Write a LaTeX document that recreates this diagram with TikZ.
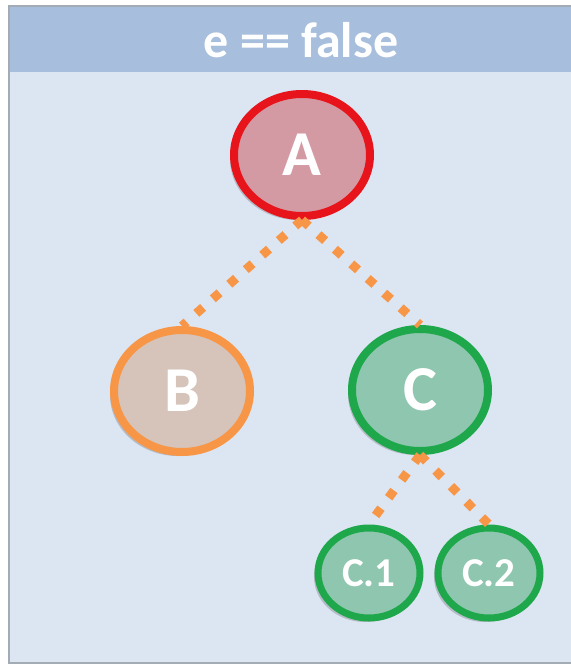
\documentclass[tikz,border=0pt]{standalone}
\usepackage{fontspec}
\setmainfont{Carlito}
\usetikzlibrary{shapes.geometric,shadows}
\definecolor{hdr}{HTML}{A7BEDD}
\definecolor{body}{HTML}{DCE5F2}
\definecolor{frame}{HTML}{A3ABB5}
\definecolor{redline}{HTML}{E8141B}
\definecolor{redfill}{HTML}{D49AA4}
\definecolor{orline}{HTML}{F79646}
\definecolor{orfill}{HTML}{D6C3B9}
\definecolor{grline}{HTML}{1EA84B}
\definecolor{grfill}{HTML}{8EC6AF}
\begin{document}
\begin{tikzpicture}[x=1pt,y=-1pt,
  treenode/.style={ellipse, inner sep=0pt, line width=8pt, text=white,
    font=\bfseries\fontsize{64}{64}\selectfont,
    drop shadow={shadow xshift=-4pt, shadow yshift=-4pt, opacity=0.18, fill=black}},
  bignode/.style={treenode, minimum width=136pt, minimum height=122pt},
  smallnode/.style={treenode, line width=7pt, minimum width=102pt, minimum height=90pt,
    font=\bfseries\fontsize{41}{41}\selectfont},
  rednode/.style={draw=redline, fill=redfill},
  ornode/.style={draw=orline, fill=orfill},
  grnode/.style={draw=grline, fill=grfill},
  dotlink/.style={draw=orline, line width=9pt, dash pattern=on 9pt off 13pt}
]
\useasboundingbox (0,0) rectangle (571,665);
\fill[white] (0,0) rectangle (571,665);
% panel
\fill[body] (9,6) rectangle (571,663);
\fill[hdr] (9,6) rectangle (571,72);
\draw[frame, line width=1.5pt] (571,6) -- (9,6) -- (9,663) -- (571,663);
\node[text=white, font=\bfseries\fontsize{50}{50}\selectfont] (title) at (301,40) {e == false};
% nodes
\node[bignode, rednode] (A) at (302,155) {A};
\node[bignode, ornode] (B) at (182,391) {B};
\node[bignode, grnode] (C) at (420,390) {C};
\node[smallnode, grnode] (C1) at (369,573) {C.1};
\node[smallnode, grnode] (C2) at (489,573) {C.2};
% connectors
\draw[dotlink] (A.south) -- (B.north);
\draw[dotlink] (A.south) -- (C.north);
\draw[dotlink] (C.south) -- (C1.north);
\draw[dotlink] (C.south) -- (C2.north);
\end{tikzpicture}
\end{document}
